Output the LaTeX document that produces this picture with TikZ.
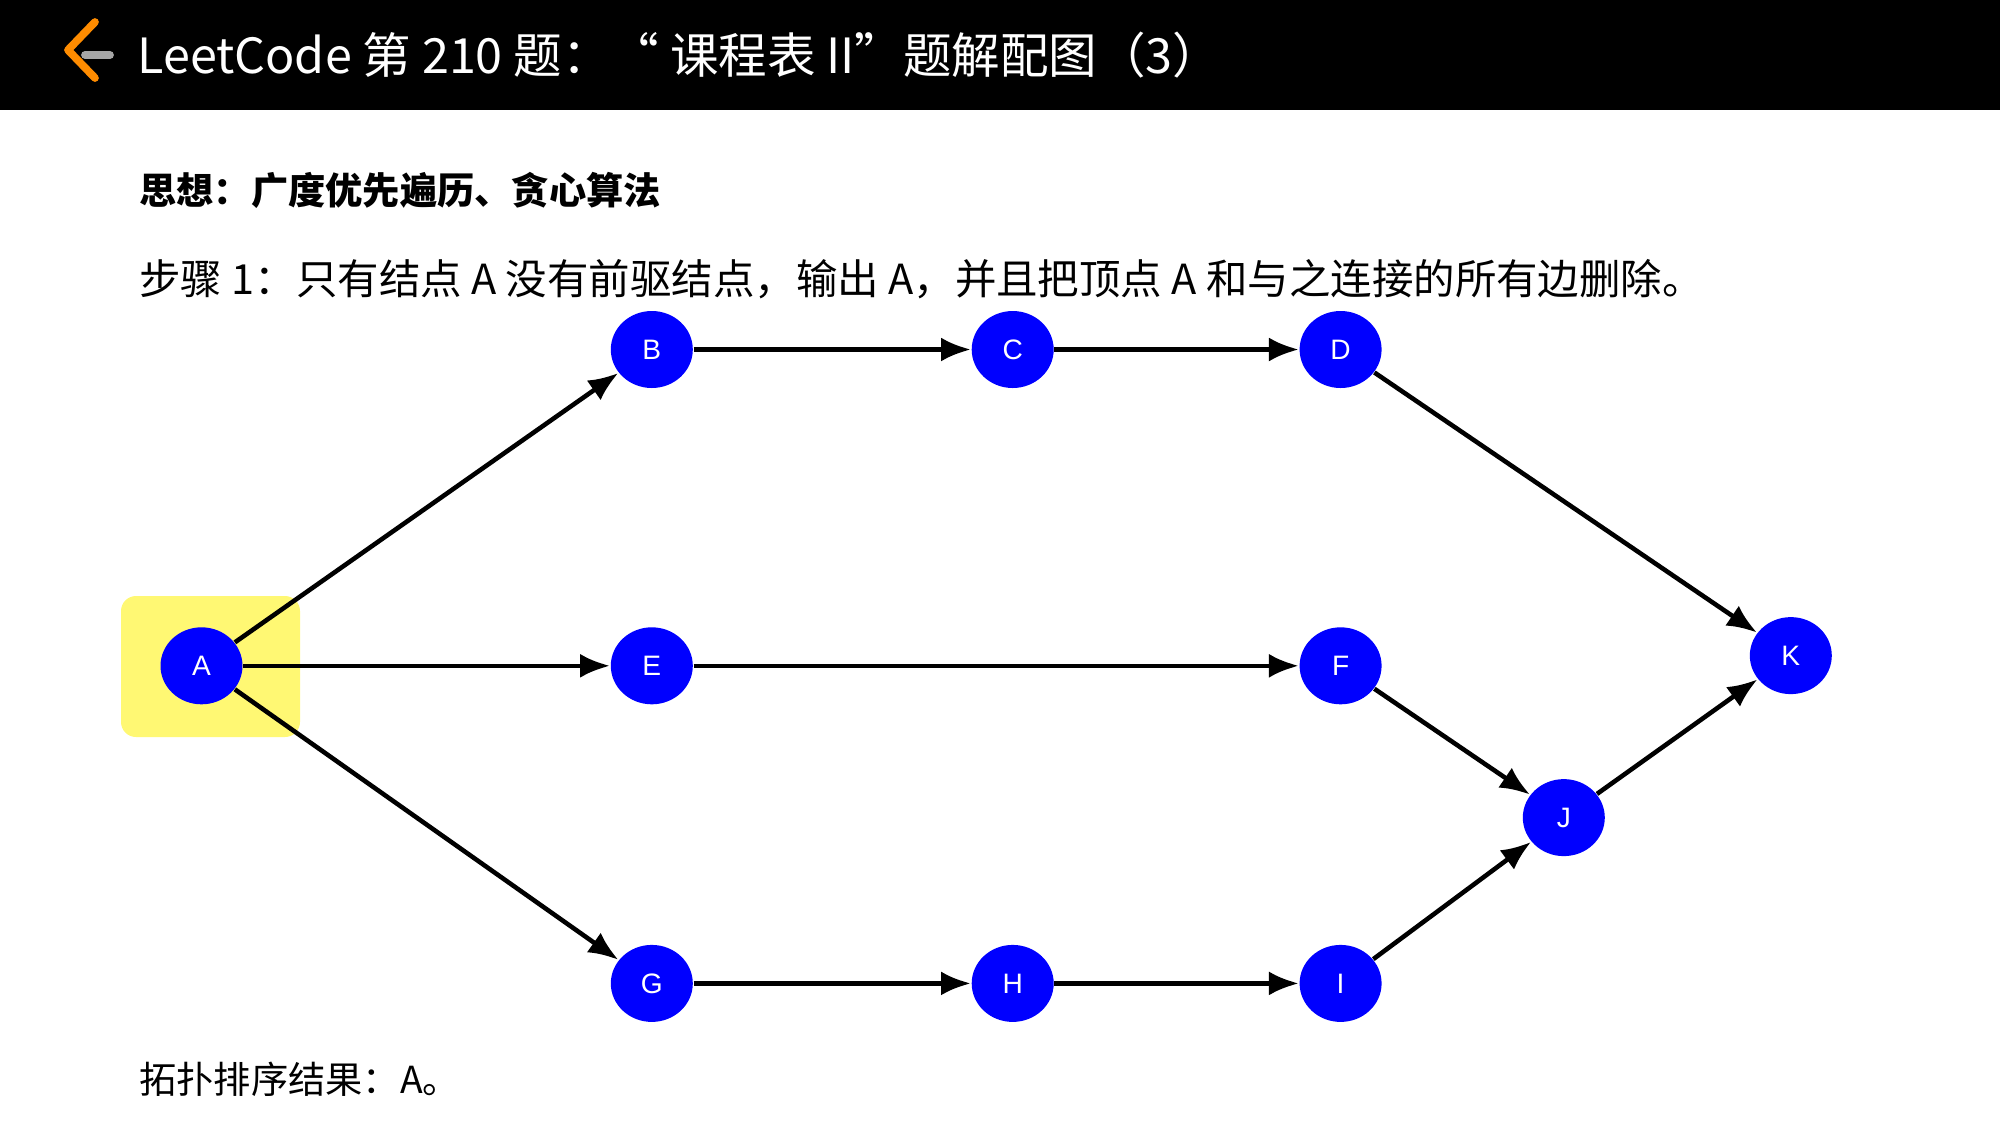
\documentclass[tikz,border=0pt]{standalone}
\usepackage{fontspec}
\setmainfont{Liberation Serif}
\setsansfont{Liberation Sans}
\newfontfamily\cjk{Noto Sans CJK SC}
\usetikzlibrary{arrows.meta,shapes.geometric}

\begin{document}
\begin{tikzpicture}[x=1cm,y=-1cm,
    vert/.style={ellipse,fill=blue,text=white,minimum width=0.82cm,minimum height=0.77cm,inner sep=0pt,font=\sffamily\fontsize{8}{8}\selectfont},
    edge/.style={-{Latex[length=3mm,width=2.4mm]},line width=1.3pt}]
    \useasboundingbox (0,0) rectangle (20,11.25);
    \fill[black] (0,0) rectangle (20,1.1);
    % logo
    \draw[orange!90!yellow,line width=2.2pt,line cap=round,line join=round] (0.95,0.22) -- (0.68,0.5) -- (0.95,0.78);
    \draw[gray!70,line width=2.2pt,line cap=round] (0.85,0.55) -- (1.1,0.55);
    \node[anchor=west,text=white,font=\cjk\fontsize{13.8}{14}\selectfont] (title) at (1.25,0.55) {LeetCode 第 210 题：“ 课程表 II”题解配图（3）};
    \node[anchor=west,font=\cjk\bfseries\fontsize{10.6}{11}\selectfont] (idea) at (1.27,1.9) {思想：广度优先遍历、贪心算法};
    \node[anchor=west,font=\cjk\fontsize{11.8}{12}\selectfont] (step) at (1.27,2.79) {步骤 1：只有结点 A 没有前驱结点，输出 A，并且把顶点 A 和与之连接的所有边删除。};
    \node[anchor=west,font=\cjk\fontsize{10.6}{11}\selectfont] (res) at (1.27,10.79) {拓扑排序结果：A。};
    % highlight
    \fill[yellow!55,rounded corners=0.15cm] (1.21,5.96) rectangle (3.0,7.37);
    % vertices
    \node[vert] (A) at (2.015,6.658) {A};
    \node[vert] (B) at (6.518,3.495) {B};
    \node[vert] (C) at (10.127,3.495) {C};
    \node[vert] (D) at (13.406,3.495) {D};
    \node[vert] (E) at (6.518,6.658) {E};
    \node[vert] (F) at (13.406,6.658) {F};
    \node[vert] (G) at (6.518,9.834) {G};
    \node[vert] (H) at (10.127,9.834) {H};
    \node[vert] (I) at (13.406,9.834) {I};
    \node[vert] (J) at (15.638,8.176) {J};
    \node[vert] (K) at (17.908,6.556) {K};
    % edges
    \foreach \s/\t in {A/B,A/E,A/G,B/C,C/D,D/K,E/F,F/J,G/H,H/I,I/J,J/K}
        \draw[edge] (\s) -- (\t);
\end{tikzpicture}
\end{document}
